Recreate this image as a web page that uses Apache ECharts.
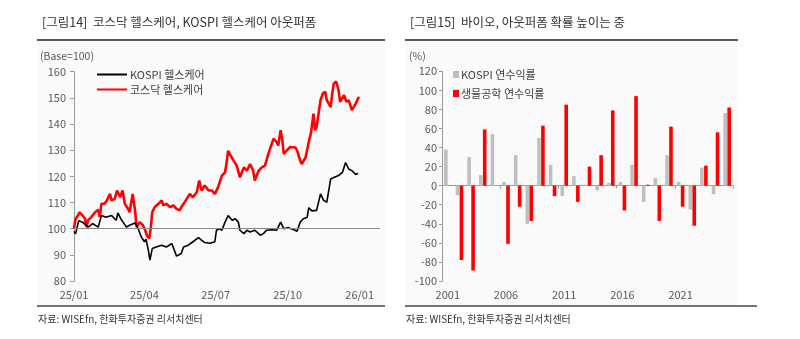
<!DOCTYPE html>
<html>
<head>
<meta charset="utf-8">
<script src="https://cdn.jsdelivr.net/npm/echarts@6/dist/echarts.min.js"></script>
<style>
html,body{margin:0;padding:0;background:#fff;}
#chart{width:800px;height:339px;}
</style>
</head>
<body>
<div id="chart"></div>
<script>
// ---------- Left chart data (day offset from 2025-01-01, index Base=100) ----------
const leftTickDays = [0, 90, 181, 273, 365];
const leftTickLabels = ['25/01', '25/04', '25/07', '25/10', '26/01'];

const kospiDay = [0,2,6,11,18,24,31,35,41,48,54,56,61,67,71,78,82,86,90,92,95,97,100,105,112,118,125,131,137,140,146,152,159,163,167,174,180,182,186,189,193,197,202,206,210,212,217,221,225,231,238,242,246,253,259,264,268,274,281,285,289,293,298,300,304,310,315,319,323,328,332,338,343,347,351,355,360,363];
const kospiVal = [99,98,103,102.5,100.6,101.9,100.6,105,104.4,105,103.2,106,103.2,100.6,101.3,102.2,100,96.8,95,96,91.8,88,92.4,93,93.7,93,94.3,89.5,90.5,93,93.7,95,96.6,95.6,94.7,94.4,95,99.4,100,99.4,102.5,105,103.2,103.8,102.5,99.4,98.1,99.4,98.7,99.4,97.5,98.1,99.4,99.6,99.4,102.5,100,100.4,99.6,99,102.5,103.8,104.4,108,106.8,107,113.3,110.8,110.1,119,119.6,120.3,121.5,125.3,122.8,122.2,120.7,121.2];

const kosdaqDay = [0,2,5,7,11,14,16,18,22,27,31,33,35,39,42,46,48,52,55,59,62,65,69,71,75,78,80,84,88,91,93,96,98,100,103,108,112,114,118,123,127,131,135,137,140,144,148,152,157,160,163,167,172,176,180,184,189,193,195,197,199,204,208,212,217,221,225,229,231,236,240,244,247,251,255,259,261,264,266,268,272,276,283,285,289,291,296,298,300,303,306,308,310,315,318,321,323,328,330,332,335,338,340,345,348,351,355,360,364];
const kosdaqVal = [100,103.8,105,106.3,105,103.8,100.6,103.2,104.4,106.3,107.2,104.4,109.5,109.5,110.8,113.3,110.8,111.4,114.6,112,114.6,109.5,107.6,106.3,113.3,107,100.6,102.5,101.3,99.4,97.5,96.2,100,106.3,108.2,109.5,110.8,108.9,109.5,108.2,108.9,107.6,107,108.2,109.5,111.4,113.3,112,114,118.4,114.6,116.5,114.6,114.6,113.3,115.8,120.3,121.5,125.3,129.8,128.5,126,124.1,119.6,123.4,122.2,124.7,122.2,118.4,122.2,123.4,124.1,127.2,131,134.4,133.1,131.8,137.6,134.4,128.6,129.9,131.2,131,129.9,126,124.7,127.3,128,133.1,136.9,144,137.6,138.9,149.1,151.7,152.3,149.1,146.5,151.7,155.5,156.2,153,148.5,151,148.5,149.1,145.3,147.8,150.4];

// ---------- Right chart data (annual returns, %) ----------
const years = ['2001','2002','2003','2004','2005','2006','2007','2008','2009','2010','2011','2012','2013','2014','2015','2016','2017','2018','2019','2020','2021','2022','2023','2024','2025'];
const kospiRet = [38,-10,30,11,54,4,32,-40,50,22,-11,10,1,-5,3,4,22,-17,8,32,4,-25,19,-9,76];
const bioRet = [null,-78,-89,59,null,-61,-22,-37,63,-11,85,-17,20,32,79,-26,94,1,-37,62,-22,-42,21,56,82];

const FONT = '"Noto Sans CJK KR", "Noto Sans", sans-serif';
const LABEL_COLOR = '#595959';

const pair = (xs, ys) => xs.map((x, i) => [x, ys[i]]);

const chart = echarts.init(document.getElementById('chart'), null, {renderer: 'canvas'});

const option = {
  backgroundColor: '#ffffff',
  animation: false,
  textStyle: {fontFamily: FONT},
  title: [
    {text: '[그림14]  코스닥 헬스케어, KOSPI 헬스케어 아웃퍼폼', left: 37, top: 11,
     textStyle: {fontSize: 12.5, fontWeight: 'normal', color: '#333', fontFamily: FONT}},
    {text: '[그림15]  바이오, 아웃퍼폼 확률 높이는 중', left: 405, top: 11,
     textStyle: {fontSize: 12.5, fontWeight: 'normal', color: '#333', fontFamily: FONT}}
  ],
  graphic: [
    {type: 'rect', z: -10, shape: {x: 37, y: 41, width: 348, height: 264}, style: {fill: '#fafafa'}},
    {type: 'rect', z: -10, shape: {x: 405, y: 41, width: 333, height: 264}, style: {fill: '#fafafa'}},
    {type: 'line', shape: {x1: 37, y1: 40, x2: 385, y2: 40}, style: {stroke: '#222', lineWidth: 1.3}},
    {type: 'line', shape: {x1: 405, y1: 40, x2: 738, y2: 40}, style: {stroke: '#222', lineWidth: 1.3}},
    {type: 'line', shape: {x1: 37, y1: 306, x2: 385, y2: 306}, style: {stroke: '#444', lineWidth: 1.3}},
    {type: 'line', shape: {x1: 405, y1: 306, x2: 757, y2: 306}, style: {stroke: '#444', lineWidth: 1.3}},
    {type: 'text', left: 40, top: 51, style: {text: '(Base=100)', fontSize: 10.5, fill: LABEL_COLOR, fontFamily: FONT}},
    {type: 'text', left: 409, top: 51, style: {text: '(%)', fontSize: 10.5, fill: LABEL_COLOR, fontFamily: FONT}},
    {type: 'text', left: 38, top: 314, style: {text: '자료: WISEfn, 한화투자증권 리서치센터', fontSize: 10, fill: '#333', fontFamily: FONT}},
    {type: 'text', left: 406, top: 314, style: {text: '자료: WISEfn, 한화투자증권 리서치센터', fontSize: 10, fill: '#333', fontFamily: FONT}}
  ],
  legend: [
    {orient: 'vertical', left: 92, top: 64, itemWidth: 30, itemHeight: 2, itemGap: 4, icon: 'rect',
     data: ['KOSPI 헬스케어', '코스닥 헬스케어'],
     textStyle: {fontSize: 11, color: '#404040', fontFamily: FONT, padding: [0, 0, 0, -2]}},
    {orient: 'vertical', left: 448, top: 64, itemWidth: 6, itemHeight: 7, itemGap: 8, icon: 'rect',
     data: ['KOSPI 연수익률', '생물공학 연수익률'],
     textStyle: {fontSize: 11, color: '#404040', fontFamily: FONT, padding: [0, 0, 0, -3]}}
  ],
  grid: [
    {left: 74, top: 71.7, width: 306, height: 209.3},
    {left: 442, top: 71.3, width: 291, height: 209.7}
  ],
  xAxis: [
    {gridIndex: 0, type: 'value', min: 0, max: 391,
     axisLine: {show: false}, axisTick: {show: false}, splitLine: {show: false},
     axisLabel: {customValues: leftTickDays, margin: 8, fontSize: 11, color: LABEL_COLOR,
       formatter: v => leftTickLabels[leftTickDays.indexOf(v)] || ''}},
    {gridIndex: 1, type: 'category', data: years, position: 'bottom',
     axisLine: {show: false, onZero: false}, axisTick: {show: false}, splitLine: {show: false},
     axisLabel: {interval: 4, margin: 8, fontSize: 11, color: LABEL_COLOR}},
    {gridIndex: 1, type: 'category', data: years, position: 'top',
     axisLine: {show: true, onZero: true, lineStyle: {color: '#9a9a9a', width: 1}},
     axisTick: {show: true, interval: 4, inside: true, length: 3, lineStyle: {color: '#9a9a9a'}},
     axisLabel: {show: false}, splitLine: {show: false}}
  ],
  yAxis: [
    {gridIndex: 0, type: 'value', min: 80, max: 160, interval: 10,
     axisLine: {show: true, lineStyle: {color: '#9a9a9a'}},
     axisTick: {show: true, length: 4, lineStyle: {color: '#9a9a9a'}},
     splitLine: {show: false},
     axisLabel: {margin: 8, fontSize: 11, color: LABEL_COLOR}},
    {gridIndex: 1, type: 'value', min: -100, max: 120, interval: 20,
     axisLine: {show: true, lineStyle: {color: '#9a9a9a'}},
     axisTick: {show: true, length: 3, lineStyle: {color: '#9a9a9a'}},
     splitLine: {show: false},
     axisLabel: {margin: 5, fontSize: 11, color: LABEL_COLOR}}
  ],
  series: [
    {name: 'KOSPI 헬스케어', type: 'line', xAxisIndex: 0, yAxisIndex: 0,
     data: pair(kospiDay, kospiVal), symbol: 'none', z: 3,
     lineStyle: {color: '#000000', width: 1.6}, itemStyle: {color: '#000000'},
     markLine: {silent: true, symbol: 'none', label: {show: false},
       lineStyle: {color: '#8a8a8a', width: 1, type: 'solid'}, data: [{yAxis: 100}]}},
    {name: '코스닥 헬스케어', type: 'line', xAxisIndex: 0, yAxisIndex: 0,
     data: pair(kosdaqDay, kosdaqVal), symbol: 'none', z: 2,
     lineStyle: {color: '#ff0000', width: 2.6}, itemStyle: {color: '#ff0000'}},
    {name: 'KOSPI 연수익률', type: 'bar', xAxisIndex: 1, yAxisIndex: 1,
     data: kospiRet, barWidth: 3.6, barGap: '10%', itemStyle: {color: '#bfbfbf'}},
    {name: '생물공학 연수익률', type: 'bar', xAxisIndex: 1, yAxisIndex: 1,
     data: bioRet, barWidth: 3.6, barGap: '10%', itemStyle: {color: '#ff0000'}}
  ]
};
chart.setOption(option);
</script>
</body>
</html>
